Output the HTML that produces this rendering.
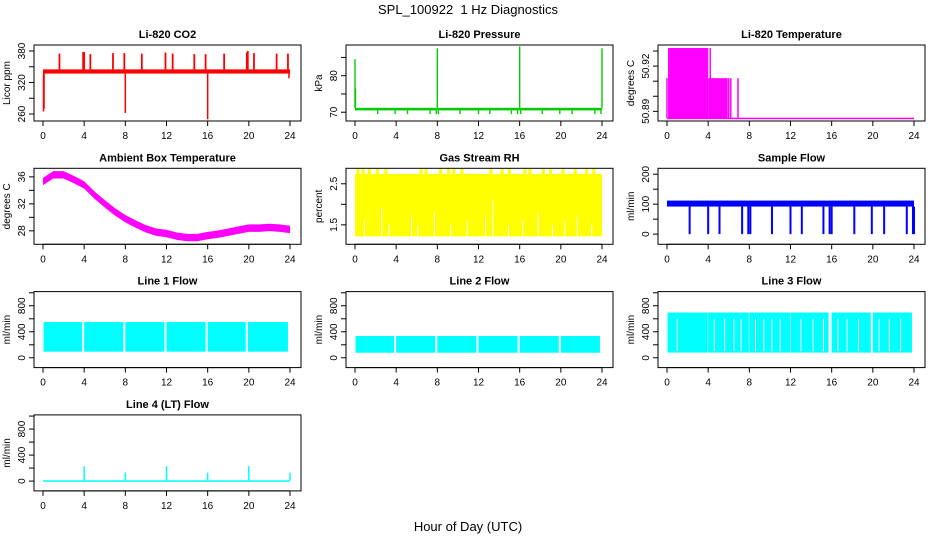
<!DOCTYPE html>
<html><head><meta charset="utf-8"><style>
html,body{margin:0;padding:0;background:#fff;}
svg text{font-family:"Liberation Sans",sans-serif;}
</style></head><body>
<svg id="chart" xmlns="http://www.w3.org/2000/svg" width="936" height="540" viewBox="0 0 936 540">
<rect width="936" height="540" fill="#fff"/>
<text x="468" y="14" text-anchor="middle" font-size="13" style="white-space:pre">SPL_100922  1 Hz Diagnostics</text>
<text x="468" y="531" text-anchor="middle" font-size="13">Hour of Day (UTC)</text>
</svg>
<script>
// ---- data arrays ----
const xTicks = [0,4,8,12,16,20,24];
// CO2
const co2Band = [337,345];
const co2UpHours = [1.6,3.9,4.0,4.6,6.8,7.9,9.6,11.9,12.6,14.7,15.8,17.6,19.8,19.9,20.5,22.7,23.8];
const co2UpVals  = [375,378,378,374,376,376,375,377,375,374,374,375,377,380,376,375,375];
const co2DownHours = [0.05,0.1,8.0,16.0,23.9];
const co2DownVals  = [265,270,262,250,328];
// Pressure
const presBand = [70.5,71.2];
const presUpHours = [0.0,0.05,8.0,16.0,24.0];
const presUpVals  = [84.5,76.5,87.5,88.0,87.5];
const presDownHours = [2.2,3.9,5.1,7.3,7.9,8.1,10.2,12,13.1,15.2,15.8,16.1,18.2,19.9,21.1,23.3,23.9];
const presDownVals  = [69.5,69.5,69.5,69.5,69.5,69.5,69.5,69.5,69.5,69.5,69.5,69.5,69.5,69.5,69.5,69.5,69.5];
// Li-820 temperature
const ltBlockStart = [0.1,4.0];
const ltBlockEnd   = [4.0,5.9];
const ltBlockTop   = [50.932,50.912];
const ltSpikeHours = [0.0,4.2,6.0,6.2,6.9];
const ltSpikeVals  = [50.912,50.932,50.912,50.912,50.912];
const ltBase = 50.8856;
// Ambient temperature (hourly)
const ambHours = [0,1,2,3,4,5,6,7,8,9,10,11,12,13,14,15,16,17,18,19,20,21,22,23,24];
const ambVals  = [35.3,36.3,36.3,35.6,34.8,33.3,32.0,30.8,29.8,29.0,28.3,27.8,27.6,27.2,27.0,27.0,27.3,27.5,27.8,28.1,28.4,28.4,28.5,28.4,28.2];
// Gas stream RH
const rhBand = [1.22,2.74];
const rhUpHours = [0.3,0.8,1.4,2.2,3.0,6.4,6.9,8.3,9.1,9.6,10.4,13.2,14.3,15.0,16.5,17.0,18.3,19.0,20.2,21.4,22.5,23.2];
const rhUpVals  = [2.86,2.86,2.86,2.86,2.86,2.86,2.86,2.86,2.86,2.86,2.86,2.86,2.86,2.86,2.86,2.86,2.86,2.86,2.86,2.86,2.86,2.86];
const rhGapHours = [0.9,2.6,3.3,5.5,6.1,7.7,9.3,10.9,12.7,13.4,14.9,16.3,17.8,19.2,20.4,21.6,23.0];
const rhGapTops  = [1.6,1.9,1.5,1.7,1.5,1.8,1.5,1.6,1.7,2.1,1.5,1.6,1.8,1.5,1.6,1.7,1.5];
// Sample flow
const sfBand = [92,112];
const sfDownHours = [2.2,4.0,5.1,7.3,7.9,8.1,10.2,12,13.1,15.2,15.8,16,18.2,19.9,21.1,23.3,23.9,24];
const sfDownVals  = [0,0,0,0,0,0,0,0,0,0,0,0,0,0,0,0,0,0];
// Line flows
const l1SegStart = [0.05,4.0,8.0,12.0,16.0,19.9];
const l1SegEnd   = [3.8,7.8,11.8,15.8,19.7,23.8];
const l1Low = 94, l1High = 550;
const l2SegStart = [0.05,4.0,8.0,12.0,16.0,20.0];
const l2SegEnd   = [3.8,7.8,11.8,15.8,19.8,23.8];
const l2Low = 78, l2High = 335;
const l3SegStart = [0.05,4.0,8.0,12.0,16.0,20.0];
const l3SegEnd   = [3.95,7.95,11.95,15.7,19.8,23.8];
const l3Low = 80, l3High = 696;
const l3GapHours = [1.0,4.6,5.6,6.5,7.2,8.6,9.4,10.2,11.0,13.0,14.2,15.2,16.6,17.5,18.6,20.6,21.6,22.7];
const l3GapTops  = [600,590,600,600,600,600,600,600,600,600,600,600,600,600,600,600,600,600];
const l4Base = [0,12];
const l4SpikeHours = [4,8,12,16,20,24];
const l4SpikeVals  = [230,130,230,130,230,130];

const svg = document.getElementById('chart');
const NS = 'http://www.w3.org/2000/svg';
function mk(tag, attrs, parent){ const e=document.createElementNS(NS,tag); for(const k in attrs) e.setAttribute(k,attrs[k]); (parent||svg).appendChild(e); return e; }

function panel(col,row,title,ylab,yTop,yBot,ticks,labels,name){
  const L=34+312*col, T=45+123.3*row, W=267, H=76;
  const g=mk('g',{});
  
  
  const x=v=>L+9+v*(247/24);
  const y=v=>T+(yTop-v)/(yTop-yBot)*H;
  const t=mk('text',{x:L+W/2,y:T-7,'text-anchor':'middle','font-size':'11','font-weight':'bold'},g);
  t.textContent=title;
  
  
  const yl=mk('text',{transform:`translate(${L-24},${T+H/2}) rotate(-90)`,'text-anchor':'middle','font-size':'10'},g);
  yl.textContent=ylab;
  
  
  mk('line',{x1:x(0),x2:x(24),y1:T+H,y2:T+H,stroke:'#000'},g);
  xTicks.forEach(v=>{
    mk('line',{x1:x(v),x2:x(v),y1:T+H,y2:T+H+5,stroke:'#000'},g);
    const tl=mk('text',{x:x(v),y:T+H+18,'text-anchor':'middle','font-size':'10'},g);
    tl.textContent=v;
    
    
  });
  mk('line',{x1:L,x2:L,y1:y(ticks[0]),y2:y(ticks[ticks.length-1]),stroke:'#000'},g);
  ticks.forEach((v,i)=>{
    mk('line',{x1:L-5,x2:L,y1:y(v),y2:y(v),stroke:'#000'},g);
    if(labels[i]){
      const tl=mk('text',{transform:`translate(${L-9},${y(v)}) rotate(-90)`,'text-anchor':'middle','font-size':'10'},g);
      tl.textContent=labels[i];
      
      
    }
  });
  const data=mk('g',{},g);
  
  
  mk('rect',{x:L,y:T,width:W,height:H,fill:'none',stroke:'#000'},g);
  return {x,y,g:data};
}
function band(p,x0,x1,lo,hi,c){ mk('rect',{x:p.x(x0),y:p.y(hi),width:Math.max(1,p.x(x1)-p.x(x0)),height:Math.max(1.5,p.y(lo)-p.y(hi)),fill:c},p.g); }
function spike(p,xv,a,b,c,w){ mk('line',{x1:p.x(xv),x2:p.x(xv),y1:p.y(a),y2:p.y(b),stroke:c,'stroke-width':w||1.5},p.g); }

let p=panel(0,0,'Li-820 CO2','Licor ppm',391.4,246.7,[260,290,320,350,380],['260','','320','','380'],'co2');
band(p,0,24,co2Band[0],co2Band[1],'#f00');
co2UpHours.forEach((h,i)=>spike(p,h,co2Band[1],co2UpVals[i],'#f00',1.8));
co2DownHours.forEach((h,i)=>spike(p,h,co2Band[0],co2DownVals[i],'#f00'));

p=panel(1,0,'Li-820 Pressure','kPa',88.4,67.6,[70,75,80,85],['70','','80',''],'pressure');
band(p,0,24,presBand[0],presBand[1],'#0c0');
presUpHours.forEach((h,i)=>spike(p,h,presBand[1],presUpVals[i],'#0c0',1.4));
presDownHours.forEach((h,i)=>spike(p,h,presBand[0],presDownVals[i],'#0c0',1.4));

p=panel(2,0,'Li-820 Temperature','degrees C',50.934,50.8836,[50.89,50.90,50.91,50.92,50.93],['50.89','','','50.92',''],'li820-temp');
ltBlockStart.forEach((s,i)=>band(p,s,ltBlockEnd[i],ltBase,ltBlockTop[i],'#f0f'));
ltSpikeHours.forEach((h,i)=>spike(p,h,ltBase,ltSpikeVals[i],'#f0f'));
band(p,0,24,ltBase-0.0002,ltBase+0.0002,'#f0f');

p=panel(0,1,'Ambient Box Temperature','degrees C',37.27,26.0,[28,30,32,34,36],['28','','32','','36'],'ambient-temp');
{ let top=ambHours.map((h,i)=>p.x(h)+','+p.y(ambVals[i]+0.55)).join(' ');
  let bot=ambHours.slice().reverse().map((h,i)=>p.x(h)+','+p.y(ambVals[ambVals.length-1-i]-0.55)).join(' ');
  mk('polygon',{points:top+' '+bot,fill:'#f0f'},p.g); }

p=panel(1,1,'Gas Stream RH','percent',2.877,1.026,[1.5,2.0,2.5],['1.5','','2.5'],'gas-rh');
band(p,0,24,rhBand[0],rhBand[1],'#ff0');
rhUpHours.forEach((h,i)=>spike(p,h,rhBand[1],rhUpVals[i],'#ff0',3));
rhGapHours.forEach((h,i)=>spike(p,h,rhBand[0]-0.01,rhGapTops[i],'#fff',1));

p=panel(2,1,'Sample Flow','ml/min',219.8,-34,[0,50,100,150,200],['0','','100','','200'],'sample-flow');
band(p,0,24,sfBand[0],sfBand[1],'#00f');
sfDownHours.forEach((h,i)=>spike(p,h,sfBand[0],sfDownVals[i],'#00f',2));

const ft=[0,200,400,600,800,1000], fl=['0','','400','','800',''];
p=panel(0,2,'Line 1 Flow','ml/min',1018,-151,ft,fl,'line1-flow');
l1SegStart.forEach((s,i)=>band(p,s,l1SegEnd[i],l1Low,l1High,'#0ff'));
p=panel(1,2,'Line 2 Flow','ml/min',1018,-151,ft,fl,'line2-flow');
l2SegStart.forEach((s,i)=>band(p,s,l2SegEnd[i],l2Low,l2High,'#0ff'));
p=panel(2,2,'Line 3 Flow','ml/min',1018,-151,ft,fl,'line3-flow');
l3SegStart.forEach((s,i)=>band(p,s,l3SegEnd[i],l3Low,l3High,'#0ff'));
l3GapHours.forEach((h,i)=>spike(p,h,l3Low+20,l3GapTops[i],'#fff',1));
p=panel(0,3,'Line 4 (LT) Flow','ml/min',1018,-151,ft,fl,'line4-flow');
band(p,0,24,l4Base[0],l4Base[1],'#0ff');
l4SpikeHours.forEach((h,i)=>spike(p,h,l4Base[1],l4SpikeVals[i],'#0ff',1.5));
</script>
</body></html>
